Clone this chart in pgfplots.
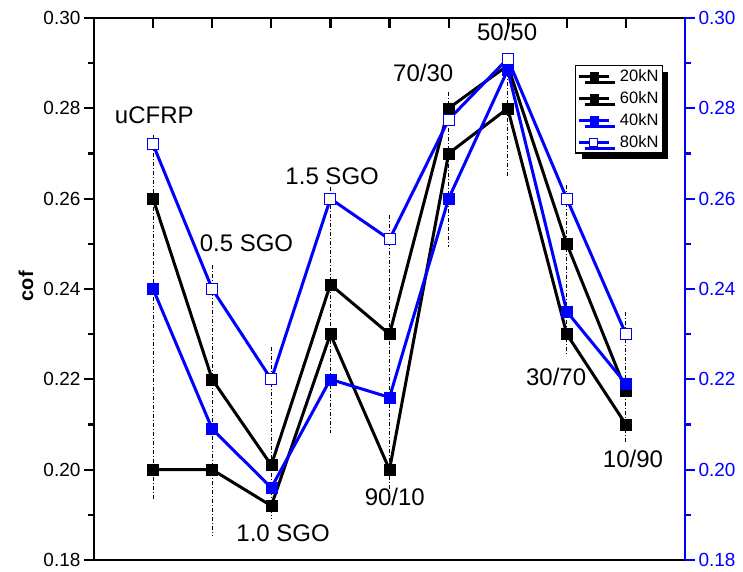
\documentclass[border=0pt]{standalone}
\usepackage{pgfplots}
\pgfplotsset{compat=1.18}
\usepackage{fontspec}
\setmainfont{Liberation Sans}
\usetikzlibrary{shadows}
\definecolor{pblue}{RGB}{0,0,255}
\begin{document}
\begin{tikzpicture}
\begin{axis}[
  scale only axis, width=591pt, height=542pt,
  xmin=0, xmax=10, ymin=0.18, ymax=0.30,
  xtick={1,2,3,4,5,6,7,8,9}, xticklabels={}, xtick pos=right, xtick align=inside,
  ytick={0.18,0.20,0.22,0.24,0.26,0.28,0.30}, minor y tick num=1,
  ytick pos=left, ytick align=outside,
  major tick length=10pt, minor tick length=6pt,
  axis line style={line width=2.6pt, black},
  every tick/.style={line width=2.2pt, black},
  /pgf/number format/assume math mode=true,
  yticklabel style={/pgf/number format/.cd, fixed, fixed zerofill, precision=2},
  tick label style={font=\fontsize{19}{19}\selectfont},
  clip=false,
  legend style={at={(rel axis cs:0.814,0.913)}, anchor=north west, draw=black, line width=1.3pt,
    fill=white, font=\fontsize{16.5}{16.5}\selectfont, row sep=4.5pt, inner sep=2pt,
    drop shadow={shadow xshift=6pt, shadow yshift=-6pt, fill=black, opacity=1}},
  legend cell align=left,
  legend image code/.code={\draw[mark repeat=2,mark phase=2,#1, line width=2.2pt, mark size=4pt] plot coordinates {(0pt,0pt) (15pt,0pt) (30pt,0pt)};},
]
% dash-dot range lines
\pgfplotsset{rng/.style={black, line width=0.9pt, dash pattern=on 4pt off 2pt on 1pt off 2pt, forget plot}}
\addplot[rng] coordinates {(1,0.2741) (1,0.1933)};
\addplot[rng] coordinates {(2,0.2453) (2,0.1855)};
\addplot[rng] coordinates {(3,0.2272) (3,0.1890)};
\addplot[rng] coordinates {(4,0.2626) (4,0.2081)};
\addplot[rng] coordinates {(5,0.2564) (5,0.1955)};
\addplot[rng] coordinates {(6,0.2836) (6,0.2493)};
\addplot[rng] coordinates {(7,0.2918) (7,0.2648)};
\addplot[rng] coordinates {(8,0.2630) (8,0.2254)};
\addplot[rng] coordinates {(9,0.2349) (9,0.2059)};
% series
\addplot[black, line width=3pt, mark=square*, mark size=5.5pt, mark options={solid, line width=0.5pt}]
  coordinates {(1,0.26) (2,0.22) (3,0.201) (4,0.241) (5,0.23) (6,0.28) (7,0.2895) (8,0.25) (9,0.2175)};
\addlegendentry{\hspace*{8pt}20kN}
\addplot[black, line width=3pt, mark=square*, mark size=5.5pt, mark options={solid, line width=0.5pt}]
  coordinates {(1,0.20) (2,0.20) (3,0.192) (4,0.23) (5,0.20) (6,0.27) (7,0.28) (8,0.23) (9,0.21)};
\addlegendentry{\hspace*{8pt}60kN}
\addplot[pblue, line width=3pt, mark=square*, mark size=5.5pt, mark options={solid, line width=0.5pt}]
  coordinates {(1,0.24) (2,0.209) (3,0.196) (4,0.22) (5,0.216) (6,0.26) (7,0.2885) (8,0.235) (9,0.219)};
\addlegendentry{\hspace*{8pt}40kN}
\addplot[pblue, line width=3pt, mark=square*, mark size=5.5pt, mark options={solid, line width=1pt, fill=white, draw=pblue}]
  coordinates {(1,0.272) (2,0.24) (3,0.22) (4,0.26) (5,0.251) (6,0.2775) (7,0.291) (8,0.26) (9,0.23)};
\addlegendentry{\hspace*{8pt}80kN}
% annotations
\begin{scope}[every node/.style={font=\fontsize{24}{24}\selectfont, inner sep=0pt}]
\node at (axis cs:1.02,0.2785) {uCFRP};
\node at (axis cs:2.58,0.2502) {0.5 SGO};
\node at (axis cs:3.20,0.1860) {1.0 SGO};
\node at (axis cs:4.03,0.2650) {1.5 SGO};
\node at (axis cs:5.09,0.1940) {90/10};
\node at (axis cs:5.57,0.2878) {70/30};
\node at (axis cs:6.99,0.2969) {50/50};
\node at (axis cs:7.82,0.2205) {30/70};
\node at (axis cs:9.12,0.2024) {10/90};
\end{scope}
\node[rotate=90, font=\fontsize{20}{20}\selectfont\bfseries] at ([xshift=-68pt]rel axis cs:0,0.505) {cof};
\end{axis}
\begin{axis}[
  scale only axis, width=591pt, height=542pt,
  xmin=0, xmax=10, ymin=0.18, ymax=0.30,
  axis x line=none, axis y line*=right,
  ytick={0.18,0.20,0.22,0.24,0.26,0.28,0.30}, minor y tick num=1,
  ytick align=outside,
  major tick length=10pt, minor tick length=6pt,
  axis line style={line width=2.3pt, pblue, -},
  every tick/.style={line width=2.2pt, pblue},
  /pgf/number format/assume math mode=true,
  yticklabel style={/pgf/number format/.cd, fixed, fixed zerofill, precision=2},
  tick label style={font=\fontsize{19}{19}\selectfont, text=pblue},
]
\addplot[draw=none, forget plot] coordinates {(0,0.2)};
\end{axis}
\pgfresetboundingbox
\path ([shift={(-94pt,-11pt)}]current axis.south west) rectangle ([shift={(58pt,18pt)}]current axis.north east);
\end{tikzpicture}
\end{document}
